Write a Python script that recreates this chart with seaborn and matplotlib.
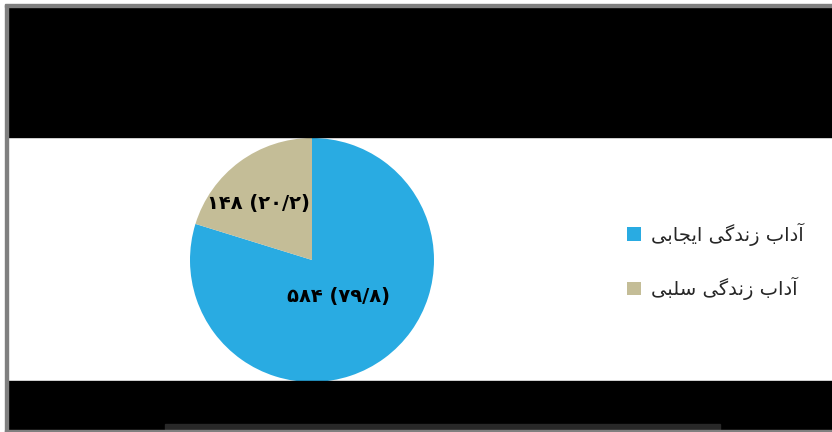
import matplotlib
matplotlib.use("Agg")
import matplotlib.pyplot as plt
import seaborn as sns
import numpy as np
from matplotlib.patches import Rectangle

# Data
categories = ["آداب زندگی ایجابی", "آداب زندگی سلبی"]
counts = [584, 148]
percents = [79.8, 20.2]
colors = ["#29ABE2", "#C4BD97"]

# Persian letter forms: isolated, final, initial, medial
FORMS = {
    "آ": ("\uFE81", "\uFE82"),
    "ا": ("\uFE8D", "\uFE8E"),
    "د": ("\uFEA9", "\uFEAA"),
    "ز": ("\uFEAF", "\uFEB0"),
    "ب": ("\uFE8F", "\uFE90", "\uFE91", "\uFE92"),
    "ن": ("\uFEE5", "\uFEE6", "\uFEE7", "\uFEE8"),
    "گ": ("\uFB92", "\uFB93", "\uFB94", "\uFB95"),
    "ی": ("\uFBFC", "\uFBFD", "\uFBFE", "\uFBFF"),
    "ج": ("\uFE9D", "\uFE9E", "\uFE9F", "\uFEA0"),
    "ل": ("\uFEDD", "\uFEDE", "\uFEDF", "\uFEE0"),
    "س": ("\uFEB1", "\uFEB2", "\uFEB3", "\uFEB4"),
}


def shape_rtl(text):
    # join letters and put them in visual (left to right) order
    out = []
    for i, ch in enumerate(text):
        if ch not in FORMS:
            out.append(ch)
            continue
        prev = text[i - 1] if i > 0 else ""
        nxt = text[i + 1] if i + 1 < len(text) else ""
        join_prev = prev in FORMS and len(FORMS[prev]) == 4
        join_next = len(FORMS[ch]) == 4 and nxt in FORMS
        forms = FORMS[ch]
        if join_prev and join_next:
            out.append(forms[3])
        elif join_next:
            out.append(forms[2])
        elif join_prev:
            out.append(forms[1])
        else:
            out.append(forms[0])
    return "".join(out)[::-1]


def fa_digits(s):
    return s.translate(str.maketrans("0123456789.", "۰۱۲۳۴۵۶۷۸۹/"))


sns.set_theme(style="white")
plt.rcParams['font.family'] = ['DejaVu Sans']

fig = plt.figure(figsize=(8.32, 4.32), dpi=100)
W, H = 832, 432

# black bands and frame
fig.patches.append(Rectangle((6 / W, 1 - 137 / H), 1, 131 / H, transform=fig.transFigure,
                             color="black", zorder=0))
fig.patches.append(Rectangle((6 / W, 0), 1, 1 - 381 / H, transform=fig.transFigure,
                             color="black", zorder=0))
fig.patches.append(Rectangle((165 / W, 2 / H), 555 / W, 6 / H, transform=fig.transFigure,
                             color="#282828", zorder=1))
fig.patches.append(Rectangle((5 / W, 0), 3 / W, 1 - 5 / H, transform=fig.transFigure,
                             color="#808080", zorder=2))
fig.patches.append(Rectangle((5 / W, 1 - 7 / H), 1, 3 / H, transform=fig.transFigure,
                             color="#808080", zorder=2))
fig.patches.append(Rectangle((5 / W, 0), 1, 2 / H, transform=fig.transFigure,
                             color="#808080", zorder=2))

# pie axes
cx, cy, r = 312, 260, 122
ax = fig.add_axes([(cx - r) / W, 1 - (cy + r) / H, 2 * r / W, 2 * r / H])
wedges, _ = ax.pie(counts, colors=colors, startangle=90, counterclock=False,
                   wedgeprops=dict(linewidth=0), radius=1.0)
ax.set_xlim(-1, 1)
ax.set_ylim(-1, 1)
ax.set_aspect("equal")
ax.axis("off")

# value labels inside the slices
label_dist = [0.37, 0.64]
label_shift = [0, 7]
for w, n, p, d, s in zip(wedges, counts, percents, label_dist, label_shift):
    ang = np.deg2rad((w.theta1 + w.theta2) / 2 + s)
    txt = fa_digits(f"{n} ({p:.1f})")
    ax.text(d * np.cos(ang), d * np.sin(ang), txt, ha="center", va="center",
            fontsize=14, fontweight="bold", color="black")

leg = fig.legend(wedges, [shape_rtl(c) for c in categories], loc="center left",
                 bbox_to_anchor=(627 / W, 1 - 261.5 / H), frameon=False,
                 fontsize=14, borderpad=0, borderaxespad=0, handlelength=0.7,
                 handleheight=0.7, handletextpad=0.55, labelspacing=1.6)

fig.savefig("out.png", dpi=100, facecolor="white")
